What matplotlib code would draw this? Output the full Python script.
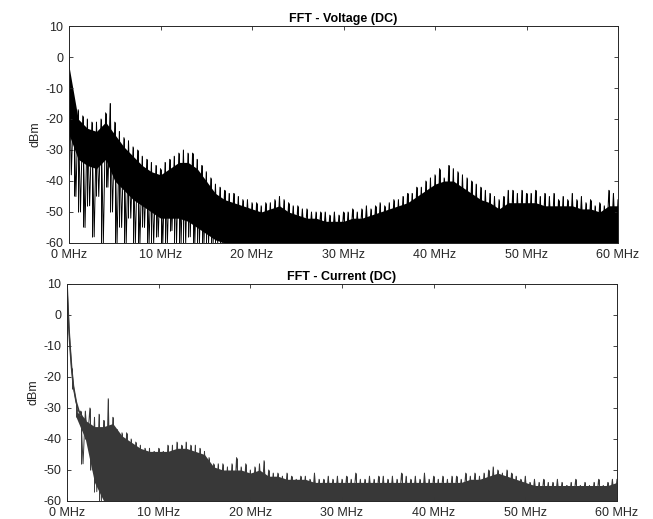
import numpy as np
from matplotlib import pyplot as plt

plt.rcParams['font.family'] = ['Liberation Sans', 'DejaVu Sans']
plt.rcParams['axes.unicode_minus'] = False

# frequency grids (MHz)
f_body = np.arange(0, 61, 1.0)
f_spk = np.arange(0, 60.5, 0.5)

# ---- Voltage (DC) ----
v_body_hi = [-3, -20, -23, -24, -21, -25, -29, -32, -35, -37,
             -38, -36, -34, -34, -36, -40, -44, -46, -47, -48,
             -49, -50, -49, -48, -50, -51, -52, -52, -53, -53,
             -53, -52, -52, -51, -50, -49, -48, -47, -45, -43,
             -41, -40, -40, -42, -44, -46, -47, -49, -47, -47,
             -47, -47, -48, -48, -48, -48, -49, -49, -50, -48, -48]
v_body_lo = [-25, -33, -35, -36, -33, -40, -43, -46, -48, -50,
             -52, -52, -52, -53, -55, -57, -59] + [-60] * 44

v_peak = [0, -14, -17, -19, -20, -21, -21, -20, -18, -15,
          -21, -24, -26, -27, -29, -30, -32, -33, -34, -35,
          -36, -34, -33, -32, -31, -30, -31, -31, -33, -35,
          -37, -39, -41, -42, -43, -44, -44, -45, -46, -46,
          -47, -47, -48, -47, -47, -46, -45, -46, -47, -48,
          -48, -49, -49, -50, -50, -50, -50, -51, -50, -51,
          -50, -50, -49, -50, -49, -48, -49, -48, -47, -48,
          -47, -46, -46, -45, -44, -44, -42, -42, -40, -39,
          -38, -36, -39, -35, -36, -37, -38, -39, -40, -41,
          -42, -43, -44, -45, -46, -45, -43, -43, -44, -43,
          -44, -44, -43, -45, -44, -45, -44, -46, -45, -46,
          -44, -46, -45, -47, -46, -48, -47, -48, -43, -44, -46]
v_dip = [-38, -45, -50, -55, -48, -58, -45, -60, -42, -50,
         -60, -55, -60, -52, -60, -60, -55, -60, -60, -58,
         -60, -60, -56, -60, -60, -60, -58, -60, -60, -60,
         -60, -60, -60, -60] + [-60] * 87

# ---- Current (DC) ----
i_decay_f = [0, 0.1, 0.2, 0.35, 0.5, 0.7, 1.0, 1.3, 1.7, 2.0]
i_decay_db = [10, 3, -4, -11, -17, -23, -28, -31, -33, -34]

i_body_hi = [np.nan, -31, -34, -36, -36, -35, -39, -41, -43, -44,
             -44, -44, -43, -43, -44, -45, -49, -50, -50, -50,
             -51, -50, -52, -52, -53, -53, -53, -54, -54, -54,
             -54, -54, -54, -54, -54, -54, -54, -54, -54, -54,
             -54, -54, -54, -54, -53, -53, -52, -51, -52, -53,
             -54, -55, -55, -55, -55, -55, -55, -55, -55, -55, -54]
i_body_lo = [np.nan, -33, -40, -54] + [-60] * 57

i_peak = [10, -17, -28, -31, -31, -30, -33, -32, -34, -27,
          -33, -37, -38, -38, -40, -41, -42, -43, -43, -44,
          -43, -44, -42, -42, -41, -42, -41, -42, -42, -43,
          -44, -46, -48, -48, -48, -49, -48, -46, -49, -48,
          -50, -49, -48, -47, -50, -51, -51, -52, -51, -52,
          -53, -52, -52, -53, -51, -53, -53, -52, -53, -52,
          -53, -52, -53, -51, -53, -53, -52, -53, -52, -52,
          -53, -52, -53, -51, -52, -53, -52, -53, -51, -53,
          -52, -53, -52, -53, -52, -52, -53, -51, -52, -51,
          -52, -51, -50, -49, -50, -51, -50, -51, -52, -53,
          -52, -54, -53, -54, -53, -54, -54, -53, -54, -55,
          -54, -53, -55, -54, -55, -54, -53, -55, -54, -53, -53]
i_dip = [-6, -24, -33, -48, -40, -50, -57, -60] + [-60] * 113

xticks = [0, 10, 20, 30, 40, 50, 60]
xticklabels = ['0 MHz', '10 MHz', '20 MHz', '30 MHz', '40 MHz', '50 MHz', '60 MHz']
yticks = [-60, -50, -40, -30, -20, -10, 0, 10]

fig = plt.figure(figsize=(6.53, 5.19), dpi=100)
ax1 = fig.add_axes([0.1057, 0.5318, 0.8407, 0.4181])
ax2 = fig.add_axes([0.1026, 0.0347, 0.8422, 0.4181])

edge = '#262626'


def style(ax, title):
    ax.set_xlim(0, 60)
    ax.set_ylim(-60, 10)
    ax.set_xticks(xticks)
    ax.set_xticklabels(xticklabels)
    ax.set_yticks(yticks)
    ax.tick_params(direction='in', top=True, right=True, length=3,
                   width=0.6, colors=edge, labelsize=9)
    ax.tick_params(axis='x', pad=4.5)
    ax.tick_params(axis='y', pad=4)
    for s in ax.spines.values():
        s.set_color(edge)
        s.set_linewidth(0.7)
    ax.set_ylabel('dBm', fontsize=9, color=edge, labelpad=3)
    ax.set_title(title, fontsize=9, fontweight='bold', pad=3)


def zigzag(ax, peak, dip, color):
    # alternate peak / dip samples so the trace reads like a dense spectrum
    x = np.empty(2 * len(f_spk))
    y = np.empty(2 * len(f_spk))
    x[0::2] = f_spk
    x[1::2] = f_spk + 0.25
    y[0::2] = peak
    y[1::2] = dip
    ax.plot(x, y, color=color, lw=0.7)
    ax.vlines(f_spk, dip, peak, color=color, lw=0.7)


# voltage
c1 = 'black'
ax1.fill_between(f_body, v_body_lo, v_body_hi, color=c1, lw=0)
zigzag(ax1, v_peak, v_dip, c1)
style(ax1, 'FFT - Voltage (DC)')

# current
c2 = '#383838'
ax2.fill_between(f_body, i_body_lo, i_body_hi, color=c2, lw=0)
zigzag(ax2, i_peak, i_dip, c2)
ax2.plot(i_decay_f, i_decay_db, color=c2, lw=1.2)
style(ax2, 'FFT - Current (DC)')

fig.savefig('out.png', dpi=100)
